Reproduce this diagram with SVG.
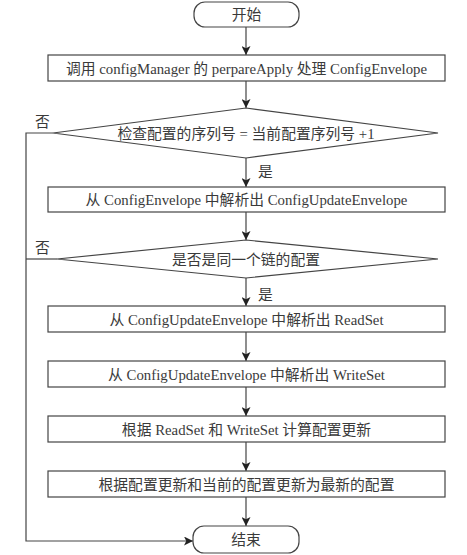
<svg xmlns="http://www.w3.org/2000/svg" width="467" height="555" viewBox="0 0 467 555">
<style>
.s{fill:#fff;stroke:#444;stroke-width:1.2}
.c{fill:none;stroke:#444;stroke-width:1.2}
text{font-family:"Liberation Serif","Noto Sans CJK SC",serif;font-size:14.8px;fill:#3a3a3a;text-anchor:middle}
.l{text-anchor:start}
</style>
<defs>
<marker id="a" viewBox="0 0 10 10" refX="10" refY="5" markerWidth="9" markerHeight="9" markerUnits="userSpaceOnUse" orient="auto">
<path d="M0,0 L10,5 L0,10 L2.5,5 Z" fill="#222"/>
</marker>
</defs>
<rect width="467" height="555" fill="#fff"/>
<g id="connectors">
<line class="c" x1="246" y1="27" x2="246" y2="55" marker-end="url(#a)"/>
<line class="c" x1="246" y1="81" x2="246" y2="108" marker-end="url(#a)"/>
<line class="c" x1="246" y1="158" x2="246" y2="187" marker-end="url(#a)"/>
<line class="c" x1="246" y1="212" x2="246" y2="240" marker-end="url(#a)"/>
<line class="c" x1="246" y1="278" x2="246" y2="306" marker-end="url(#a)"/>
<line class="c" x1="246" y1="332" x2="246" y2="361" marker-end="url(#a)"/>
<line class="c" x1="246" y1="387" x2="246" y2="416" marker-end="url(#a)"/>
<line class="c" x1="246" y1="442" x2="246" y2="471" marker-end="url(#a)"/>
<line class="c" x1="246" y1="497" x2="246" y2="526" marker-end="url(#a)"/>
<polyline class="c" points="53,133 26,133 26,541 193,541" marker-end="url(#a)"/>
<line class="c" x1="57" y1="259" x2="26" y2="259"/>
<text class="l" x="35" y="127">否</text>
<text class="l" x="35" y="253">否</text>
<text class="l" x="258" y="177">是</text>
<text class="l" x="258" y="300">是</text>
</g>
<g id="start">
<rect class="s" x="194" y="2" width="105" height="25" rx="11"/>
<text x="246.5" y="20">开始</text>
</g>
<g id="n1">
<rect class="s" x="48" y="55" width="397" height="26"/>
<text x="246.5" y="73.5">调用 configManager 的 perpareApply 处理 ConfigEnvelope</text>
</g>
<g id="d1">
<polygon class="s" points="246,108 438,133 246,158 53,133"/>
<text x="246" y="138.5">检查配置的序列号 = 当前配置序列号 +1</text>
</g>
<g id="n2">
<rect class="s" x="48" y="187" width="397" height="25"/>
<text x="246.5" y="204.5">从 ConfigEnvelope 中解析出 ConfigUpdateEnvelope</text>
</g>
<g id="d2">
<polygon class="s" points="246,240 438,259 246,278 57,259"/>
<text x="246" y="265">是否是同一个链的配置</text>
</g>
<g id="n3">
<rect class="s" x="48" y="306" width="397" height="26"/>
<text x="246.5" y="324.5">从 ConfigUpdateEnvelope 中解析出 ReadSet</text>
</g>
<g id="n4">
<rect class="s" x="48" y="361" width="397" height="26"/>
<text x="246.5" y="379.5">从 ConfigUpdateEnvelope 中解析出 WriteSet</text>
</g>
<g id="n5">
<rect class="s" x="48" y="416" width="397" height="26"/>
<text x="246.5" y="434.5">根据 ReadSet 和 WriteSet 计算配置更新</text>
</g>
<g id="n6">
<rect class="s" x="48" y="471" width="397" height="26"/>
<text x="246.5" y="489.5">根据配置更新和当前的配置更新为最新的配置</text>
</g>
<g id="end">
<rect class="s" x="193" y="526" width="106" height="27" rx="11"/>
<text x="246" y="545">结束</text>
</g>
</svg>
